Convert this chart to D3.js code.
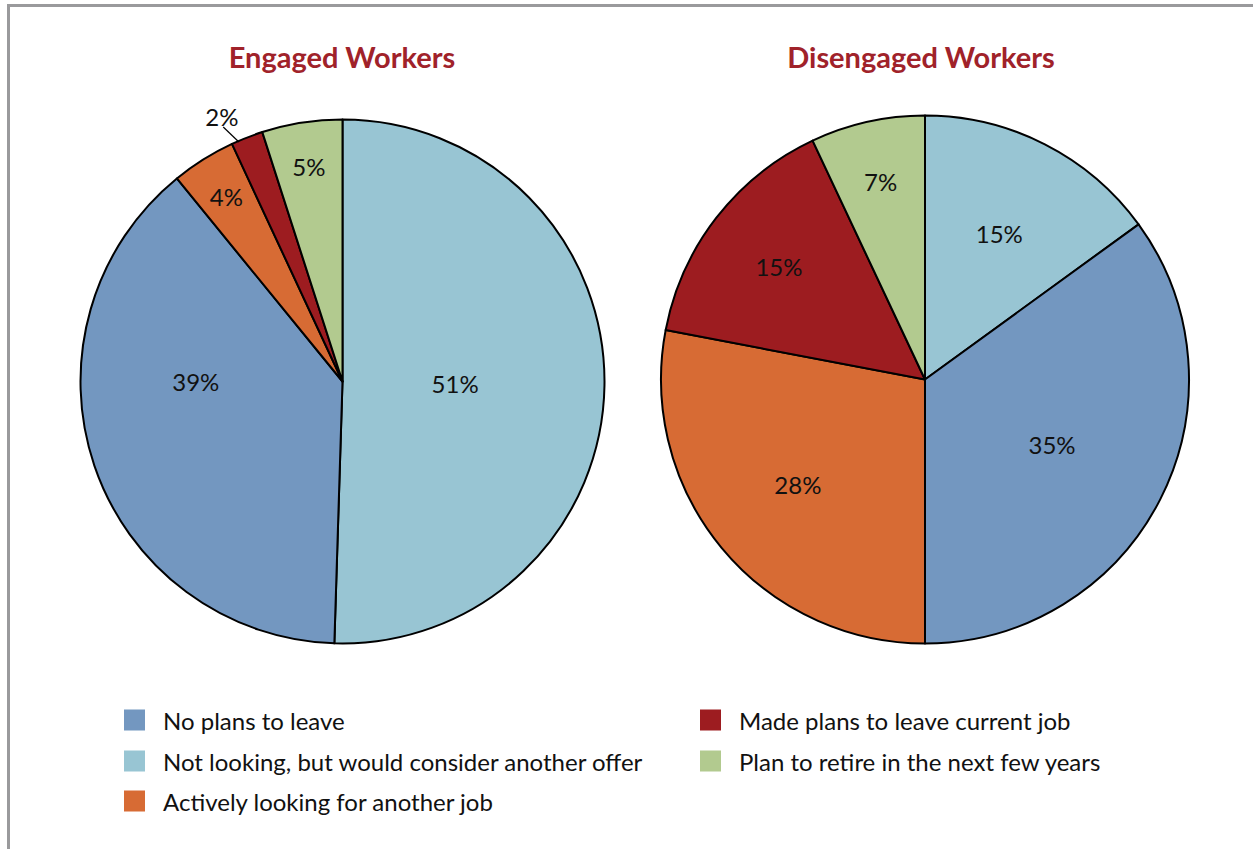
<!DOCTYPE html>
<html>
<head>
<meta charset="utf-8">
<script src="https://cdn.jsdelivr.net/npm/d3@7"></script>
<style>
  html, body { margin: 0; padding: 0; background: #fff; }
  svg { display: block; }
</style>
</head>
<body>
<svg id="chart" width="1253" height="849"></svg>
<script>
// ---- data ----
const categories = [
  "No plans to leave",
  "Not looking, but would consider another offer",
  "Actively looking for another job",
  "Made plans to leave current job",
  "Plan to retire in the next few years"
];
const colors = ["#7397c0", "#98c5d3", "#d76b34", "#9d1c20", "#b2ca8f"];
const titles = ["Engaged Workers", "Disengaged Workers"];
const engagedValues    = [39, 51, 4, 2, 5];
const disengagedValues = [35, 15, 28, 15, 7];
// slice drawing order, clockwise from 12 o'clock (indices into categories)
const sliceOrder = [1, 0, 2, 3, 4];

// ---- layout ----
const svg = d3.select("#chart");
const W = 1253, H = 849;

// frame (top and left rules)
svg.append("line").attr("x1", 7).attr("x2", W).attr("y1", 5.5).attr("y2", 5.5)
  .attr("stroke", "#9a9a9c").attr("stroke-width", 3);
svg.append("line").attr("x1", 8.5).attr("x2", 8.5).attr("y1", 4).attr("y2", H)
  .attr("stroke", "#9a9a9c").attr("stroke-width", 3);

const pies = [
  { values: engagedValues, cx: 342.5, cy: 381.5, r: 262, titleX: 342, titleY: 68,
    // label placement per slice: [unused, radius fraction, optional angle override in deg]
    labels: [[null, 0.56, 270], [null, 0.43], [null, 0.835], [null, 1.11, 335.5], [null, 0.83]],
    leader: 3 },
  { values: disengagedValues, cx: 925, cy: 379.5, r: 264, titleX: 921, titleY: 68,
    labels: [[null, 0.54], [null, 0.62], [null, 0.625], [null, 0.70], [null, 0.77]],
    leader: -1 }
];

const fontFamily = "Lato, 'Open Sans', sans-serif";

pies.forEach((p, pi) => {
  const g = svg.append("g").attr("transform", `translate(${p.cx},${p.cy})`);
  const pie = d3.pie().sort(null).value(i => p.values[i]);
  const arcs = pie(sliceOrder);
  const arc = d3.arc().innerRadius(0).outerRadius(p.r);

  g.selectAll("path.slice").data(arcs).enter().append("path")
    .attr("class", "slice")
    .attr("d", arc)
    .attr("fill", d => colors[d.data])
    .attr("stroke", "#000")
    .attr("stroke-width", 2)
    .attr("stroke-linejoin", "round");

  arcs.forEach(d => {
    const cat = d.data;
    const lp = p.labels[cat];
    const mid = (d.startAngle + d.endAngle) / 2;
    const ang = lp[2] !== undefined ? lp[2] * Math.PI / 180 : mid;
    const rr = lp[1] * p.r;
    const x = rr * Math.sin(ang), y = -rr * Math.cos(ang);
    if (cat === p.leader) {
      const r0 = p.r - 1, r1 = p.r + 19;
      const la = mid - 0.035;
      g.append("line")
        .attr("x1", r0 * Math.sin(la)).attr("y1", -r0 * Math.cos(la))
        .attr("x2", r1 * Math.sin(la - 0.03)).attr("y2", -r1 * Math.cos(la - 0.03))
        .attr("stroke", "#000").attr("stroke-width", 1.2);
    }
    g.append("text")
      .attr("x", x).attr("y", y)
      .attr("text-anchor", "middle")
      .attr("dominant-baseline", "central")
      .attr("font-family", fontFamily)
      .attr("font-size", 24)
      .attr("fill", "#111")
      .text(p.values[cat] + "%");
  });

  svg.append("text")
    .attr("x", p.titleX).attr("y", p.titleY)
    .attr("text-anchor", "middle")
    .attr("font-family", fontFamily)
    .attr("font-weight", "bold")
    .attr("font-size", 29)
    .attr("fill", "#a0222a")
    .text(titles[pi]);
});

// ---- legend ----
const legendCols = [{ x: 124, items: [0, 1, 2] }, { x: 700, items: [3, 4] }];
const rowY = [720, 761, 801];
legendCols.forEach(col => {
  col.items.forEach((cat, k) => {
    svg.append("rect")
      .attr("x", col.x).attr("y", rowY[k] - 10.5)
      .attr("width", 21).attr("height", 21)
      .attr("fill", colors[cat]);
    svg.append("text")
      .attr("x", col.x + 39).attr("y", rowY[k])
      .attr("dominant-baseline", "central")
      .attr("font-family", fontFamily)
      .attr("font-size", 24)
      .attr("fill", "#111")
      .text(categories[cat]);
  });
});
</script>
</body>
</html>
